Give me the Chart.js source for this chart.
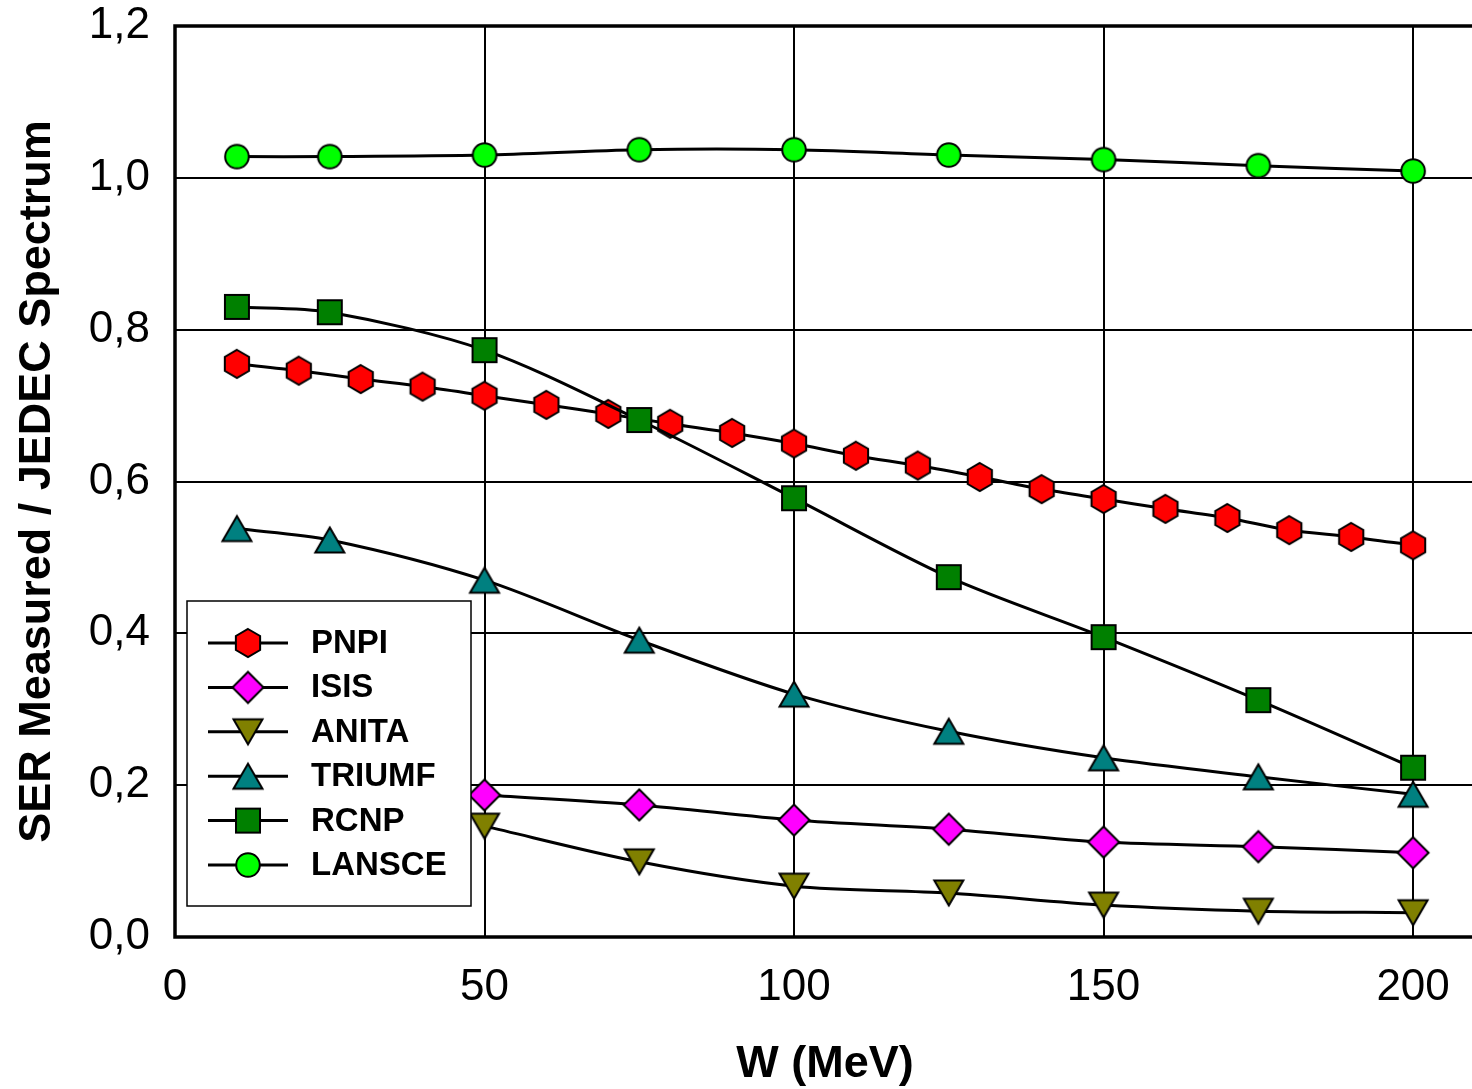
<!DOCTYPE html>
<html>
<head>
<meta charset="utf-8">
<script src="https://cdn.jsdelivr.net/npm/chart.js@4.4.1/dist/chart.umd.min.js"></script>
<style>
html, body { margin: 0; padding: 0; background: #fff; overflow: hidden; }
</style>
</head>
<body>
<canvas id="ser" width="1492" height="1089"></canvas>
<script>
// energies (MeV)
var energyPnpi = [10, 20, 30, 40, 50, 60, 70, 80, 90, 100, 110, 120, 130, 140, 150, 160, 170, 180, 190, 200];
var energyMain = [10, 25, 50, 75, 100, 125, 150, 175, 200];
var energyLow = [50, 75, 100, 125, 150, 175, 200];

// SER measured / JEDEC spectrum
var pnpi = [0.755, 0.746, 0.735, 0.725, 0.713, 0.701, 0.689, 0.676, 0.664, 0.650, 0.634, 0.621, 0.606, 0.590, 0.577, 0.564, 0.552, 0.536, 0.527, 0.516];
var isis = [0.187, 0.174, 0.154, 0.142, 0.125, 0.119, 0.111];
var anita = [0.146, 0.099, 0.067, 0.058, 0.042, 0.034, 0.032];
var triumf = [0.538, 0.523, 0.470, 0.391, 0.320, 0.271, 0.236, 0.211, 0.188];
var rcnp = [0.830, 0.823, 0.773, 0.681, 0.578, 0.474, 0.395, 0.312, 0.223];
var lansce = [1.028, 1.028, 1.030, 1.037, 1.037, 1.030, 1.024, 1.016, 1.009];

var xTicks = [0, 50, 100, 150, 200];
var yTicks = [0, 0.2, 0.4, 0.6, 0.8, 1.0, 1.2];

function marker(shape, fill) {
    var c = document.createElement('canvas');
    c.width = 36; c.height = 36;
    var g = c.getContext('2d');
    var cx = 18, cy = 18;
    g.beginPath();
    if (shape == 'hex') {
        for (var i = 0; i < 6; i++) {
            var a = -Math.PI / 2 + i * Math.PI / 3;
            g.lineTo(cx + 14 * Math.cos(a), cy + 14 * Math.sin(a));
        }
        g.closePath();
    } else if (shape == 'diamond') {
        g.moveTo(cx, cy - 15.5); g.lineTo(cx + 15.5, cy);
        g.lineTo(cx, cy + 15.5); g.lineTo(cx - 15.5, cy);
        g.closePath();
    } else if (shape == 'up') {
        g.moveTo(cx, cy - 12.5); g.lineTo(cx + 14.5, cy + 12.5);
        g.lineTo(cx - 14.5, cy + 12.5);
        g.closePath();
    } else if (shape == 'down') {
        g.moveTo(cx, cy + 12.5); g.lineTo(cx + 14.5, cy - 12.5);
        g.lineTo(cx - 14.5, cy - 12.5);
        g.closePath();
    } else if (shape == 'square') {
        g.rect(cx - 12, cy - 12, 24, 24);
    } else {
        g.arc(cx, cy, 11.8, 0, Math.PI * 2);
    }
    g.fillStyle = fill;
    g.fill();
    g.lineWidth = 2;
    g.strokeStyle = '#000';
    g.stroke();
    return c;
}

function points(xs, ys) {
    var out = [];
    for (var i = 0; i < xs.length; i++) out.push({x: xs[i], y: ys[i]});
    return out;
}

var series = [
    {label: 'PNPI', x: energyPnpi, y: pnpi, style: marker('hex', '#ff0000'), order: 6},
    {label: 'ISIS', x: energyLow, y: isis, style: marker('diamond', '#ff00ff'), order: 5},
    {label: 'ANITA', x: energyLow, y: anita, style: marker('down', '#808000'), order: 4},
    {label: 'TRIUMF', x: energyMain, y: triumf, style: marker('up', '#008080'), order: 3},
    {label: 'RCNP', x: energyMain, y: rcnp, style: marker('square', '#008000'), order: 2},
    {label: 'LANSCE', x: energyMain, y: lansce, style: marker('circle', '#00ff00'), order: 1}
];

var datasets = series.map(function(s) {
    return {
        label: s.label,
        data: points(s.x, s.y),
        order: s.order,
        borderColor: '#000',
        borderWidth: 3,
        tension: 0.3,
        pointStyle: s.style,
        pointRadius: 14,
        fill: false
    };
});

// plot frame
var framePlugin = {
    id: 'frame',
    beforeDatasetsDraw: function(chart) {
        var a = chart.chartArea, ctx = chart.ctx;
        ctx.save();
        ctx.strokeStyle = '#000';
        ctx.lineWidth = 3.5;
        ctx.strokeRect(a.left, a.top, a.right - a.left, a.bottom - a.top);
        ctx.restore();
    }
};

// legend box inside the plot
var legendPlugin = {
    id: 'boxLegend',
    afterDatasetsDraw: function(chart) {
        var a = chart.chartArea, ctx = chart.ctx;
        var bx = a.left + 12, by = a.bottom - 336;
        ctx.save();
        ctx.fillStyle = '#fff';
        ctx.fillRect(bx, by, 284, 305);
        ctx.strokeStyle = '#000';
        ctx.lineWidth = 1.5;
        ctx.strokeRect(bx, by, 284, 305);
        ctx.font = 'bold 33px "Liberation Sans", Arial, sans-serif';
        ctx.textBaseline = 'middle';
        ctx.fillStyle = '#000';
        for (var i = 0; i < series.length; i++) {
            var y = by + 42 + i * 44.4;
            ctx.beginPath();
            ctx.moveTo(bx + 21, y);
            ctx.lineTo(bx + 101, y);
            ctx.lineWidth = 3;
            ctx.stroke();
            var m = series[i].style;
            ctx.drawImage(m, bx + 61 - m.width / 2, y - m.height / 2);
            ctx.fillText(series[i].label, bx + 124, y + 1);
        }
        ctx.restore();
    }
};

var tickFont = {family: '"Liberation Sans", Arial, sans-serif', size: 44};
var titleFont = {family: '"Liberation Sans", Arial, sans-serif', size: 45, weight: 'bold', lineHeight: 1.1};

new Chart(document.getElementById('ser'), {
    type: 'line',
    data: {datasets: datasets},
    plugins: [framePlugin, legendPlugin],
    options: {
        responsive: false,
        animation: false,
        events: [],
        layout: {padding: {top: 0, right: 3, left: 0, bottom: 0}},
        plugins: {legend: {display: false}, tooltip: {enabled: false}},
        scales: {
            x: {
                type: 'linear',
                min: 0,
                max: 210,
                afterFit: function(s) { s.height = 152; },
                afterBuildTicks: function(s) { s.ticks = xTicks.map(function(v) { return {value: v}; }); },
                ticks: {color: '#000', font: tickFont, padding: 24, maxRotation: 0},
                grid: {color: '#000', lineWidth: 2, drawTicks: false},
                border: {display: false},
                title: {display: true, text: 'W (MeV)', color: '#000', font: titleFont, padding: {bottom: 0}}
            },
            y: {
                min: 0,
                max: 1.2,
                afterFit: function(s) {
                    s.width = 175;
                    s.paddingTop = 26;
                    s.paddingBottom = 0;
                },
                afterBuildTicks: function(s) { s.ticks = yTicks.map(function(v) { return {value: v}; }); },
                ticks: {
                    color: '#000',
                    font: tickFont,
                    padding: 25,
                    callback: function(v) { return v.toFixed(1).replace('.', ','); }
                },
                grid: {color: '#000', lineWidth: 2, drawTicks: false},
                border: {display: false},
                title: {display: true, text: 'SER Measured / JEDEC Spectrum', color: '#000', font: titleFont, padding: {top: 13}}
            }
        }
    }
});
</script>
</body>
</html>
